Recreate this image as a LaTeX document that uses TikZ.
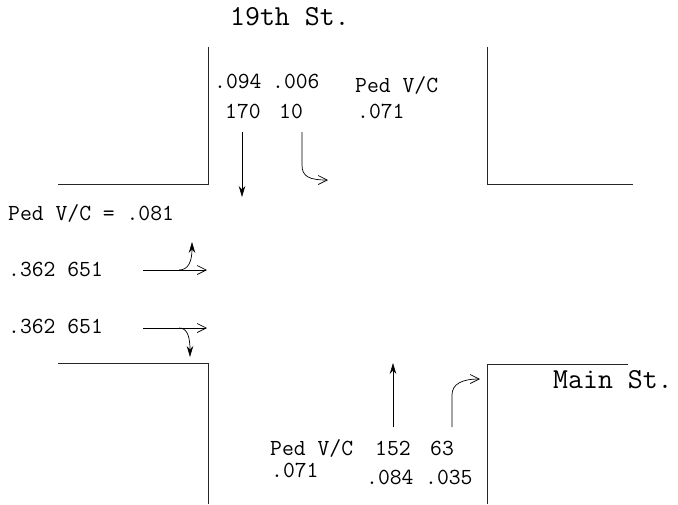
\documentclass[tikz,border=0pt]{standalone}
\usepackage{fontspec}
\usetikzlibrary{arrows.meta}
\begin{document}
\begin{tikzpicture}[x=1pt,y=-1pt,
  curb/.style={line width=1.0pt, black!85},
  flow/.style={line width=0.7pt},
  solidtip/.style={-{Stealth[length=11pt,width=6.5pt]}},
  opentip/.style={-{Straight Barb[length=9pt,width=9pt,line width=0.7pt]}},
  lbl/.style={anchor=base west, inner sep=0pt, font=\ttfamily\fontsize{23}{25}\selectfont},
  street/.style={anchor=base west, inner sep=0pt, font=\ttfamily\fontsize{29}{31}\selectfont}]
\useasboundingbox (0,0) rectangle (678,504);
% curbs
\coordinate (tl1) at (58,184); \coordinate (tl2) at (208,184); \coordinate (tl3) at (208,47);
\coordinate (tr1) at (487,47); \coordinate (tr2) at (487,184); \coordinate (tr3) at (633,184);
\coordinate (bl1) at (58,363); \coordinate (bl2) at (208,363); \coordinate (bl3) at (208,504);
\coordinate (br1) at (487,504); \coordinate (br2) at (487,364); \coordinate (br3) at (628,364);
\draw[curb] (tl1) -- (tl2) -- (tl3);
\draw[curb] (tr1) -- (tr2) -- (tr3);
\draw[curb] (bl1) -- (bl2) -- (bl3);
\draw[curb] (br1) -- (br2) -- (br3);
% street names
\node[street] (n19) at (230,25) {19th St.};
\node[street] (nmain) at (553,388) {Main St.};
% north approach
\node[lbl] (t1) at (214,88) {.094};
\node[lbl] (t2) at (272,88) {.006};
\node[lbl] (t3) at (355,92) {Ped V/C};
\node[lbl] (t4) at (225,118) {170};
\node[lbl] (t5) at (279,118) {10};
\node[lbl] (t6) at (357,118) {.071};
\coordinate (sa) at (242,132); \coordinate (sb) at (242,197);
\draw[flow,solidtip] (sa) -- (sb);
\coordinate (ra) at (302,132); \coordinate (rb) at (302,165); \coordinate (rc) at (328,180);
\draw[flow,opentip] (ra) -- (rb) .. controls (302,177) and (310,180) .. (rc);
% west approach
\node[lbl] (w1) at (8,220) {Ped V/C = .081};
\node[lbl] (w2) at (8,276) {.362 651};
\node[lbl] (w3) at (8,333) {.362 651};
\coordinate (ea) at (143,270); \coordinate (eb) at (207,270);
\coordinate (ec) at (179,270); \coordinate (ed) at (192,242);
\draw[flow,opentip] (ea) -- (eb);
\draw[flow,solidtip] (ec) .. controls (188,270) and (192,262) .. (ed);
\coordinate (fa) at (143,328); \coordinate (fb) at (207,328);
\coordinate (fc) at (179,328); \coordinate (fd) at (190,357);
\draw[flow,opentip] (fa) -- (fb);
\draw[flow,solidtip] (fc) .. controls (186,328) and (190,334) .. (fd);
% south approach
\node[lbl] (s1) at (270,455) {Ped V/C};
\node[lbl] (s2) at (375,455) {152};
\node[lbl] (s3) at (430,455) {63};
\node[lbl] (s4) at (271,477) {.071};
\node[lbl] (s5) at (366,484) {.084};
\node[lbl] (s6) at (425,484) {.035};
\coordinate (ua) at (393,427); \coordinate (ub) at (393,363);
\draw[flow,solidtip] (ua) -- (ub);
\coordinate (va) at (452,427); \coordinate (vb) at (452,395); \coordinate (vc) at (480,379);
\draw[flow,opentip] (va) -- (vb) .. controls (452,384) and (462,379) .. (vc);
\end{tikzpicture}
\end{document}
